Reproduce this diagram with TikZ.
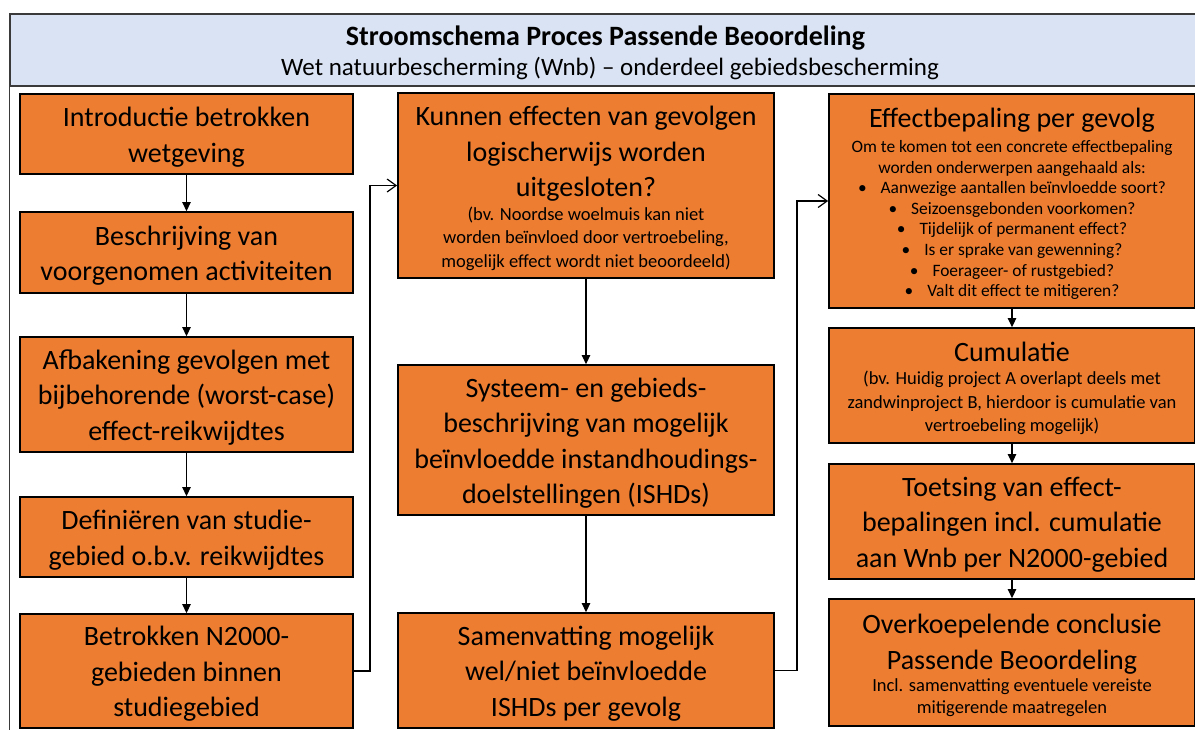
\documentclass[tikz,border=0pt]{standalone}
\usepackage{fontspec}
\setmainfont{Carlito}
\usetikzlibrary{arrows.meta}
\definecolor{boxorange}{HTML}{ED7D31}
\definecolor{headblue}{HTML}{DAE3F3}
\definecolor{framegray}{HTML}{3A3A3A}
\newcommand{\mainfs}{\fontsize{28}{35.5}\selectfont}
\newcommand{\subfs}{\fontsize{18.5}{23.5}\selectfont}
\newcommand{\smallfs}{\fontsize{17.4}{20.6}\selectfont}
\newcommand{\bul}{\textbullet\hspace{14pt}}
\newcommand{\textdownshift}{\par\vspace*{-6pt}}
\begin{document}
\begin{tikzpicture}[x=1pt,y=-1pt,
  flowbox/.style={draw=black, line width=1.8pt, fill=boxorange, inner sep=0pt,
    align=flush center, font=\mainfs, execute at end node=\textdownshift},
  lbox/.style={flowbox, text width=333pt},
  mbox/.style={flowbox, text width=376pt},
  rbox/.style={flowbox, text width=366pt},
  headbox/.style={draw=framegray, line width=1.4pt, fill=headblue, inner sep=0pt,
    minimum width=1190pt, minimum height=72pt},
  headtitle/.style={inner sep=0pt, anchor=base, font=\fontsize{28}{30}\selectfont\bfseries},
  headsub/.style={inner sep=0pt, anchor=base, font=\fontsize{25}{30}\selectfont},
  flowarrow/.style={line width=1.2pt, -{Triangle[length=9pt,width=8.5pt]}},
  openarrow/.style={line width=1.2pt, -{Straight Barb[length=9pt,width=13pt,line width=1.2pt]}},
  framestyle/.style={draw=framegray, line width=1.4pt}
]
\useasboundingbox (0,0) rectangle (1195,729);

% header
\node[headbox] (header) at (605,50) {};
\node[headtitle] (headertitle) at (605.5,45.5) {Stroomschema Proces Passende Beoordeling};
\node[headsub] (headersub) at (610,75.5) {Wet natuurbescherming (Wnb) -- onderdeel gebiedsbescherming};
\coordinate (framebottom) at (10,740);
\draw[framestyle] (header.south west) -- (header.south west |- framebottom);

% left column
\node[lbox, minimum height=80pt] (L1) at (186.5,134) {Introductie betrokken\\wetgeving};
\node[lbox, minimum height=81pt] (L2) at (186.5,252.5) {Beschrijving van\\voorgenomen activiteiten};
\node[lbox, minimum height=115pt] (L3) at (186.5,394.5) {Afbakening gevolgen met\\bijbehorende (worst-case)\\effect-reikwijdtes};
\node[lbox, minimum height=80pt] (L4) at (186.5,537) {Definiëren van studie-\\gebied o.b.v. reikwijdtes};
\node[lbox, minimum height=114pt] (L5) at (186.5,671) {Betrokken N2000-\\gebieden binnen\\studiegebied};

% middle column
\node[mbox, minimum height=185pt] (M1) at (586,185.5) {%
  \mainfs Kunnen effecten van gevolgen\\logischerwijs worden\\uitgesloten?\par
  \subfs (bv. Noordse woelmuis kan niet\\worden beïnvloed door vertroebeling,\\mogelijk effect wordt niet beoordeeld)\par};
\node[mbox, minimum height=150pt] (M2) at (586,440) {Systeem- en gebieds-\\beschrijving van mogelijk\\beïnvloedde instandhoudings-\\doelstellingen (ISHDs)};
\node[mbox, minimum height=115pt] (M3) at (586,670.5) {Samenvatting mogelijk\\wel/niet beïnvloedde\\ISHDs per gevolg};

% right column
\node[rbox, minimum height=214pt] (R1) at (1012,201) {%
  \mainfs Effectbepaling per gevolg\par\vspace{4pt}
  \smallfs Om te komen tot een concrete effectbepaling\\worden onderwerpen aangehaald als:\\
  \bul Aanwezige aantallen beïnvloedde soort?\\
  \bul Seizoensgebonden voorkomen?\\
  \bul Tijdelijk of permanent effect?\\
  \bul Is er sprake van gewenning?\\
  \bul Foerageer- of rustgebied?\\
  \bul Valt dit effect te mitigeren?\par};
\node[rbox, minimum height=115pt] (R2) at (1012,385.5) {%
  \mainfs Cumulatie\par
  \subfs (bv. Huidig project A overlapt deels met\\zandwinproject B, hierdoor is cumulatie van\\vertroebeling mogelijk)\par};
\node[rbox, minimum height=115pt] (R3) at (1012,521.5) {Toetsing van effect-\\bepalingen incl. cumulatie\\aan Wnb per N2000-gebied};
\node[rbox, minimum height=127pt] (R4) at (1012,662.5) {%
  \mainfs Overkoepelende conclusie\\Passende Beoordeling\par
  \fontsize{18.5}{22}\selectfont Incl. samenvatting eventuele vereiste\\mitigerende maatregelen\par};

% connectors
\draw[flowarrow] (L1.south) -- (L2.north);
\draw[flowarrow] (L2.south) -- (L3.north);
\draw[flowarrow] (L3.south) -- (L4.north);
\draw[flowarrow] (L4.south) -- (L5.north);
\draw[openarrow] (L5.east) -- ++(16,0) |- (M1.west);
\draw[flowarrow] (M1.south) -- (M2.north);
\draw[flowarrow] (M2.south) -- (M3.north);
\draw[openarrow] (M3.east) -- ++(22,0) |- (R1.west);
\draw[flowarrow] (R1.south) -- (R2.north);
\draw[flowarrow] (R2.south) -- (R3.north);
\draw[flowarrow] (R3.south) -- (R4.north);
\end{tikzpicture}
\end{document}
